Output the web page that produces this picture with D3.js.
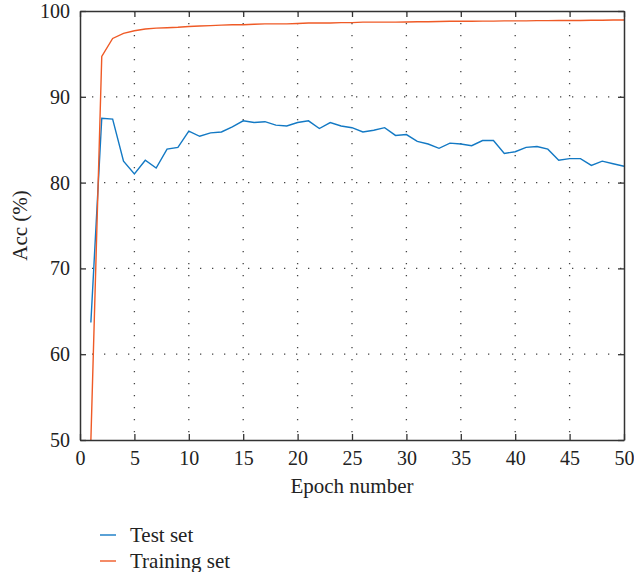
<!DOCTYPE html>
<html>
<head>
<meta charset="utf-8">
<script src="https://cdn.jsdelivr.net/npm/d3@7"></script>
<style>
  body { margin: 0; background: #fff; }
  svg text { font-family: "Liberation Serif", "Times New Roman", serif; fill: #222; }
</style>
</head>
<body>
<svg id="chart"></svg>
<script>
// Data
const epochs = d3.range(1, 51);
const testAcc = [63.7, 87.5, 87.4, 82.5, 81.0, 82.6, 81.7, 83.9, 84.1, 86.0,
  85.4, 85.8, 85.9, 86.5, 87.2, 87.0, 87.1, 86.7, 86.6, 87.0,
  87.2, 86.3, 87.0, 86.6, 86.4, 85.9, 86.1, 86.4, 85.5, 85.6,
  84.8, 84.5, 84.0, 84.6, 84.5, 84.3, 84.9, 84.9, 83.4, 83.6,
  84.1, 84.2, 83.9, 82.6, 82.8, 82.8, 82.0, 82.5, 82.2, 81.9];
const trainAcc = [50.0, 94.7, 96.8, 97.4, 97.7, 97.9, 98.0, 98.05, 98.1, 98.2,
  98.25, 98.3, 98.35, 98.4, 98.4, 98.45, 98.5, 98.5, 98.5, 98.55,
  98.6, 98.6, 98.6, 98.65, 98.65, 98.7, 98.7, 98.7, 98.7, 98.72,
  98.75, 98.75, 98.78, 98.8, 98.8, 98.8, 98.82, 98.82, 98.85, 98.85,
  98.85, 98.88, 98.88, 98.9, 98.9, 98.9, 98.92, 98.92, 98.95, 98.95];
const xTicks = d3.range(0, 51, 5);
const yTicks = [50, 60, 70, 80, 90, 100];
const seriesNames = ["Test set", "Training set"];
const seriesColors = ["#1379c4", "#ef5a26"];

const width = 634, height = 572;
const margin = { top: 11, right: 10, bottom: 132, left: 80 };

const svg = d3.select("#chart")
  .attr("width", width)
  .attr("height", height);

const x = d3.scaleLinear().domain([0, 50]).range([margin.left, width - margin.right]);
const y = d3.scaleLinear().domain([50, 100]).range([height - margin.bottom, margin.top]);

// dotted grid
const grid = svg.append("g").attr("class", "grid")
  .attr("stroke", "#444")
  .attr("stroke-width", 1.3)
  .attr("stroke-dasharray", "1.3,10.7");

grid.selectAll(".vgrid")
  .data(xTicks.filter(d => d > 0 && d < 50))
  .join("line")
  .attr("class", "vgrid")
  .attr("x1", d => x(d)).attr("x2", d => x(d))
  .attr("y1", y(100)).attr("y2", y(50));

grid.selectAll(".hgrid")
  .data(yTicks.filter(d => d > 50 && d < 100))
  .join("line")
  .attr("class", "hgrid")
  .attr("x1", x(0)).attr("x2", x(50))
  .attr("y1", d => y(d)).attr("y2", d => y(d));

// lines
const line = d3.line().x((d, i) => x(epochs[i])).y(d => y(d));
[testAcc, trainAcc].forEach((vals, i) => {
  svg.append("path")
    .datum(vals)
    .attr("fill", "none")
    .attr("stroke", seriesColors[i])
    .attr("stroke-width", 1.4)
    .attr("d", line);
});

// axes (box with inward ticks)
const tickLen = 6;
const axisColor = "#333";

const xAxis = svg.append("g")
  .attr("transform", `translate(0,${y(50)})`)
  .call(d3.axisBottom(x).tickValues(xTicks).tickSizeInner(-tickLen).tickSizeOuter(0).tickPadding(11));
const yAxis = svg.append("g")
  .attr("transform", `translate(${x(0)},0)`)
  .call(d3.axisLeft(y).tickValues(yTicks).tickSizeInner(-tickLen).tickSizeOuter(0).tickPadding(10));
const xTop = svg.append("g")
  .attr("transform", `translate(0,${y(100)})`)
  .call(d3.axisTop(x).tickValues(xTicks).tickSizeInner(-tickLen).tickSizeOuter(0).tickFormat(""));
const yRight = svg.append("g")
  .attr("transform", `translate(${x(50)},0)`)
  .call(d3.axisRight(y).tickValues(yTicks).tickSizeInner(-tickLen).tickSizeOuter(0).tickFormat(""));

[xAxis, yAxis, xTop, yRight].forEach(g => {
  g.selectAll("path").attr("stroke", axisColor).attr("stroke-width", 1.5);
  g.selectAll("line").attr("stroke", axisColor).attr("stroke-width", 1.3);
  g.selectAll("text")
    .attr("font-family", null)
    .attr("font-size", 20)
    .attr("fill", "#222");
});

// axis titles
svg.append("text")
  .attr("x", (x(0) + x(50)) / 2)
  .attr("y", 493)
  .attr("text-anchor", "middle")
  .attr("font-size", 21)
  .text("Epoch number");

svg.append("text")
  .attr("transform", `translate(27,${(y(50) + y(100)) / 2}) rotate(-90)`)
  .attr("text-anchor", "middle")
  .attr("font-size", 21)
  .text("Acc (%)");

// legend
const legend = svg.append("g");
seriesNames.forEach((name, i) => {
  const ly = 535 + i * 26;
  legend.append("line")
    .attr("x1", 100).attr("x2", 116)
    .attr("y1", ly).attr("y2", ly)
    .attr("stroke", seriesColors[i])
    .attr("stroke-width", 1.4);
  legend.append("text")
    .attr("x", 130)
    .attr("y", ly + 7)
    .attr("font-size", 21)
    .text(name);
});
</script>
</body>
</html>
